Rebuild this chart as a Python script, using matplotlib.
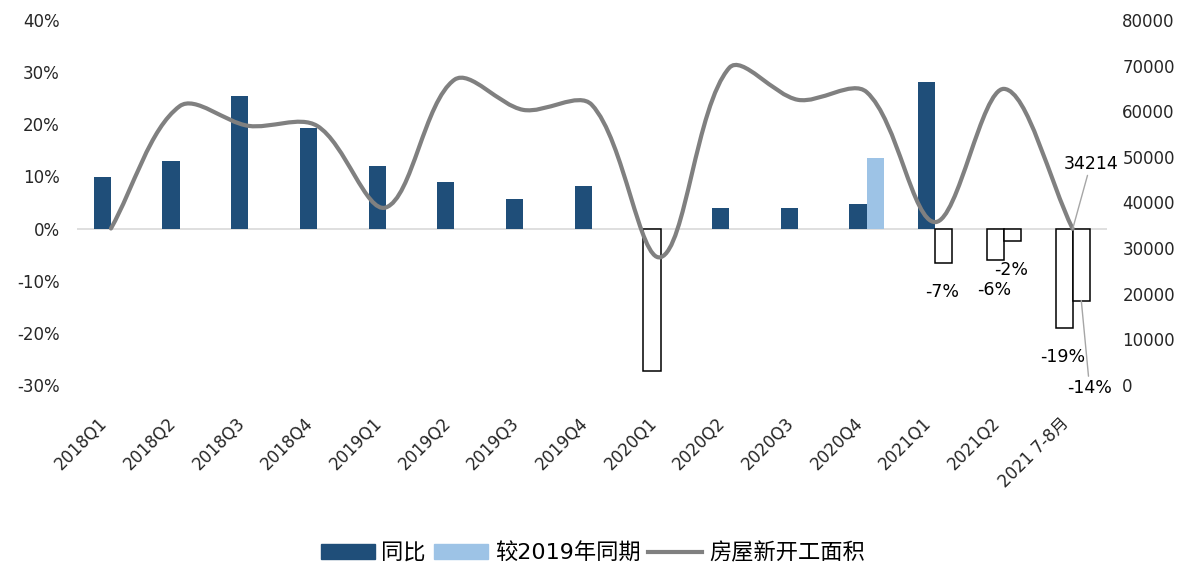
import matplotlib
matplotlib.use('Agg')
import matplotlib.pyplot as plt
from matplotlib.path import Path
from matplotlib.patches import PathPatch, Patch
from matplotlib.lines import Line2D
from matplotlib.ticker import FuncFormatter

plt.rcParams['font.family'] = ['DejaVu Sans', 'Noto Sans CJK SC']
plt.rcParams['axes.unicode_minus'] = False

periods = ['2018Q1', '2018Q2', '2018Q3', '2018Q4', '2019Q1', '2019Q2', '2019Q3', '2019Q4',
           '2020Q1', '2020Q2', '2020Q3', '2020Q4', '2021Q1', '2021Q2', '2021 7-8月']
yoy = [9.8, 13.0, 25.4, 19.3, 12.0, 9.0, 5.7, 8.2, -27.3, 4.0, 4.0, 4.8, 28.1, -6.1, -19.1]
vs2019 = [None] * 11 + [13.6, -6.6, -2.3, -13.8]
new_starts = [34300, 61100, 56800, 56800, 38900, 66900, 60300, 61400, 28000, 69500,
              62500, 64200, 35700, 64900, 34214]

dark = '#1F4E79'
light = '#9DC3E6'
grey = '#808080'

fig = plt.figure(figsize=(11.95, 5.74), dpi=100)
ax = fig.add_axes([0.0641, 0.3293, 0.8623, 0.6359])
ax2 = ax.twinx()

x = list(range(len(periods)))
w = 0.25


def bar_style(v, fill):
    # negative values are drawn hollow
    if v < 0:
        return dict(color='white', edgecolor='black', linewidth=1.1)
    return dict(color=fill, edgecolor='none')


ax.axhline(0, color='#D9D9D9', lw=1.2, zorder=1)
for i, v in enumerate(yoy):
    ax.bar(i - w / 2, v, w, zorder=2, **bar_style(v, dark))
for i, v in enumerate(vs2019):
    if v is not None:
        ax.bar(i + w / 2, v, w, zorder=2, **bar_style(v, light))

# labels under the recent negative bars
for i in range(12, len(periods)):
    for off, vals in ((-w / 2, yoy), (w / 2, vs2019)):
        v = vals[i]
        if v is None or v >= 0:
            continue
        txt = f'{v:.0f}%'
        if i == 14 and off > 0:
            ax.annotate(txt, (i + off, v), xytext=(6, -63), textcoords='offset points',
                        ha='center', va='center', fontsize=12.5,
                        arrowprops=dict(arrowstyle='-', color='#A6A6A6', lw=1,
                                        shrinkA=0, shrinkB=0))
        else:
            ax.annotate(txt, (i + off, v), xytext=(-1, -21), textcoords='offset points',
                        ha='center', va='center', fontsize=12.5)

ax.set_xlim(-0.5, 14.5)
ax.set_ylim(-30, 40)
ax.set_yticks(range(-30, 41, 10))
ax.yaxis.set_major_formatter(FuncFormatter(lambda v, p: f'{v:.0f}%'))
ax.set_xticks(x)
ax.set_xticklabels(periods, rotation=45, ha='right', va='top')

ax2.set_ylim(0, 80000)
ax2.set_yticks(range(0, 80001, 10000))

# smoothed line: cubic Bezier segments, control arms weighted by on-screen segment length
bb = ax.get_position()
sx = bb.width * fig.get_figwidth() * fig.dpi / 15.0
sy = bb.height * fig.get_figheight() * fig.dpi / 80000.0
pts = list(zip(x, new_starts))
n = len(pts)


def seglen(a, b):
    return (((b[0] - a[0]) * sx) ** 2 + ((b[1] - a[1]) * sy) ** 2) ** 0.5


verts = [pts[0]]
codes = [Path.MOVETO]
arms = []
for i in range(n):
    p0 = pts[max(i - 1, 0)]
    p1 = pts[i]
    p2 = pts[min(i + 1, n - 1)]
    d01 = seglen(p0, p1)
    d12 = seglen(p1, p2)
    tot = d01 + d12
    tx, ty = p2[0] - p0[0], p2[1] - p0[1]
    k_in = d01 / tot / 3 if tot else 0
    k_out = d12 / tot / 3 if tot else 0
    arms.append(((p1[0] - tx * k_in, p1[1] - ty * k_in),
                 (p1[0] + tx * k_out, p1[1] + ty * k_out)))
for i in range(n - 1):
    verts += [arms[i][1], arms[i + 1][0], pts[i + 1]]
    codes += [Path.CURVE4] * 3
ax2.add_patch(PathPatch(Path(verts, codes), facecolor='none', edgecolor=grey,
                        lw=3, capstyle='round', joinstyle='round', zorder=3))
ax2.annotate(f'{new_starts[-1]}', (14, new_starts[-1]), xytext=(13, 47),
             textcoords='offset points', ha='center', va='center', fontsize=12.5,
             arrowprops=dict(arrowstyle='-', color='#A6A6A6', lw=1, shrinkA=0, shrinkB=0))

for a in (ax, ax2):
    for s in a.spines.values():
        s.set_visible(False)
    a.tick_params(length=0, labelsize=12, colors='#262626')
ax.tick_params(axis='y', pad=12)
ax.tick_params(axis='x', pad=21)
ax2.tick_params(axis='y', pad=11)

handles = [Patch(color=dark), Patch(color=light), Line2D([], [], color=grey, lw=3)]
fig.legend(handles, ['同比', '较2019年同期', '房屋新开工面积'], loc='center',
           bbox_to_anchor=(0.496, 0.037), ncol=3, frameon=False, fontsize=16,
           handlelength=2.43, handleheight=0.63, handletextpad=0.3, columnspacing=0.36)

fig.savefig('out.png', dpi=100)
